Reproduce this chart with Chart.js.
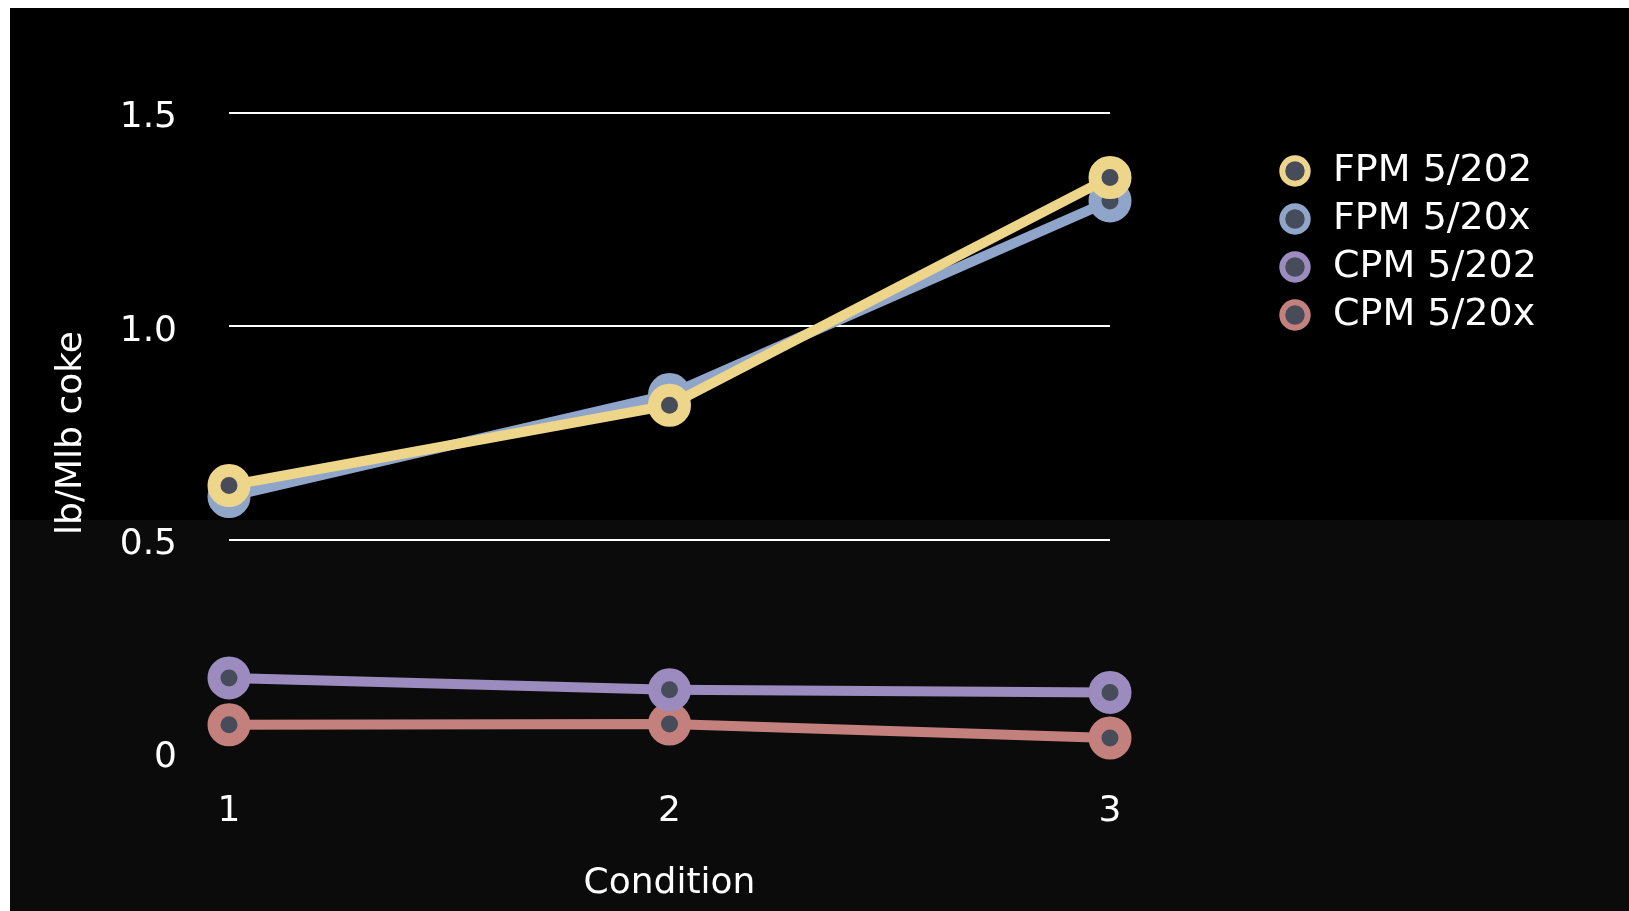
<!DOCTYPE html>
<html>
<head>
    <title>lb/Mlb coke by condition</title>
    <script src="https://cdn.jsdelivr.net/npm/chart.js"></script>
    <style>
        body {
            margin: 0;
            background: #fff;
        }
        .container {
            position: absolute;
            left: 10px;
            top: 8px;
            width: 1619px;
            height: 903px;
        }
    </style>
</head>
<body>
    <div class="container">
        <canvas id="chart"></canvas>
    </div>
    <script>
        // values
        var conditions = ['1', '2', '3'];
        var seriesNames = ['FPM 5/202', 'FPM 5/20x', 'CPM 5/202', 'CPM 5/20x'];
        var fpm202 = [0.627, 0.815, 1.349];
        var fpm20x = [0.601, 0.840, 1.294];
        var cpm202 = [0.176, 0.148, 0.142];
        var cpm20x = [0.066, 0.068, 0.035];
        var yTicks = [0, 0.5, 1.0, 1.5];

        var colors = ['#edd68a', '#8fa5c9', '#9b8bbe', '#c4807c'];
        var dotColor = '#474c5a';

        Chart.defaults.font.family = 'DejaVu Sans';
        Chart.defaults.font.size = 36;
        Chart.defaults.color = '#fff';

        function makeSet(i, values) {
            return {
                label: seriesNames[i],
                data: values,
                borderColor: colors[i],
                backgroundColor: colors[i],
                borderWidth: 10,
                pointRadius: 15,
                pointHoverRadius: 15,
                pointBorderWidth: 13,
                pointBackgroundColor: dotColor,
                pointBorderColor: colors[i],
                tension: 0,
                clip: false
            };
        }

        // two-tone black backdrop
        var backdrop = {
            id: 'backdrop',
            beforeDraw: function(chart) {
                var c = chart.ctx;
                c.save();
                c.fillStyle = '#000';
                c.fillRect(0, 0, chart.width, chart.height);
                c.fillStyle = '#0b0b0b';
                c.fillRect(0, 512, chart.width, chart.height - 512);
                c.restore();
            }
        };

        // put the legend out at the right, top aligned
        var legendSpot = {
            id: 'legendSpot',
            afterLayout: function(chart) {
                var lg = chart.legend;
                var w = lg.width, h = lg.height;
                lg.left = 1256;
                lg.right = lg.left + w;
                lg.top = 134;
                lg.bottom = lg.top + h;
            }
        };

        var ctx = document.getElementById('chart').getContext('2d');
        var chart = new Chart(ctx, {
            type: 'line',
            data: {
                labels: conditions,
                datasets: [
                    makeSet(0, fpm202),
                    makeSet(1, fpm20x),
                    makeSet(2, cpm202),
                    makeSet(3, cpm20x)
                ]
            },
            options: {
                responsive: true,
                maintainAspectRatio: false,
                animation: false,
                layout: {
                    padding: { top: 105, right: 519, bottom: 0, left: 0 }
                },
                plugins: {
                    tooltip: { enabled: false },
                    legend: {
                        position: 'chartArea',
                        align: 'start',
                        labels: {
                            usePointStyle: true,
                            boxHeight: 18,
                            boxWidth: 38,
                            padding: 10,
                            color: '#fff',
                            font: { size: 38 },
                            generateLabels: function(ch) {
                                var items = Chart.defaults.plugins.legend.labels.generateLabels(ch);
                                items.forEach(function(it) { it.lineWidth = 6; });
                                return items;
                            }
                        }
                    }
                },
                scales: {
                    x: {
                        offset: false,
                        grid: { display: false, drawTicks: false },
                        border: { display: false },
                        ticks: { padding: 37, color: '#fff' },
                        title: {
                            display: true,
                            text: 'Condition',
                            color: '#fff',
                            padding: { top: 0, bottom: 6 }
                        },
                        afterFit: function(s) { s.height = 158; }
                    },
                    y: {
                        min: 0,
                        max: 1.5,
                        afterBuildTicks: function(s) {
                            s.ticks = yTicks.map(function(v) { return { value: v }; });
                        },
                        grid: {
                            drawTicks: false,
                            lineWidth: 2,
                            color: function(c) {
                                return c.tick && c.tick.value === 0 ? 'rgba(0,0,0,0)' : '#fff';
                            }
                        },
                        border: { display: false },
                        ticks: {
                            padding: 52,
                            labelOffset: 5,
                            color: '#fff',
                            callback: function(v) { return v === 0 ? '0' : v.toFixed(1); }
                        },
                        title: {
                            display: true,
                            text: 'lb/Mlb coke',
                            color: '#fff',
                            padding: { top: 40, bottom: 0 }
                        },
                        afterFit: function(s) { s.width = 219; }
                    }
                }
            },
            plugins: [backdrop, legendSpot]
        });
    </script>
</body>
</html>
